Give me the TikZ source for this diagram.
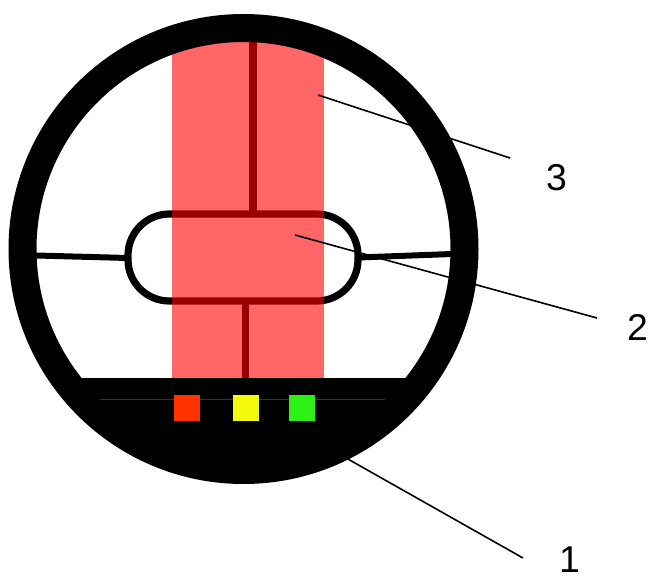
\documentclass[tikz,border=0pt]{standalone}
\usepackage{fontspec}
\setmainfont{Liberation Sans}
\tikzset{
  wire/.style={black, line width=5.4pt},
  leader/.style={black, line width=1.2pt},
  lamp/.style={minimum size=19.5pt, inner sep=0pt},
  callout/.style={font=\fontsize{28}{32}\selectfont, inner sep=0pt}
}
\begin{document}
\begin{tikzpicture}[x=0.75pt, y=-0.75pt]
\useasboundingbox (0,0) rectangle (649,578);
\draw[wire, line width=4.5pt] (36,255.5) -- (128,258);
\draw[wire, line width=4.5pt] (358,257.5) -- (452,254);
\draw[wire] (253,40) -- (253,214);
\draw[wire] (245.5,301) -- (245.5,378);
\draw[wire, rounded corners=31pt] (128,214) rectangle (358,301);
\begin{scope}
\clip (243.5,248.5) circle[radius=208];
\fill[red, opacity=0.6] (172,30) rectangle (324,378);
\fill[black] (0,378) rectangle (649,490);
\end{scope}
\draw[black, line width=21pt] (243.5,249) circle[radius=221];
\draw[black!80, line width=0.75pt] (100,399) -- (385,399);
\node[lamp, fill={rgb,255:red,255;green,51;blue,0}] (lampred) at (187,408) {};
\node[lamp, fill={rgb,255:red,245;green,250;blue,10}] (lampyellow) at (246,408) {};
\node[lamp, fill={rgb,255:red,45;green,240;blue,20}] (lampgreen) at (302,407.5) {};
\node[callout] (labelthree) at (556.5,178) {3};
\node[callout] (labeltwo) at (637.5,327) {2};
\node[callout] (labelone) at (569.5,559.5) {1};
\coordinate (endthree) at (510,158);
\coordinate (endtwo) at (597,318);
\coordinate (endone) at (523,558);
\coordinate (band) at (318,95);
\coordinate (pill) at (295,235);
\coordinate (base) at (293,428);
\draw[leader] (band) -- (endthree);
\draw[leader] (pill) -- (endtwo);
\draw[leader] (base) -- (endone);
\end{tikzpicture}
\end{document}
